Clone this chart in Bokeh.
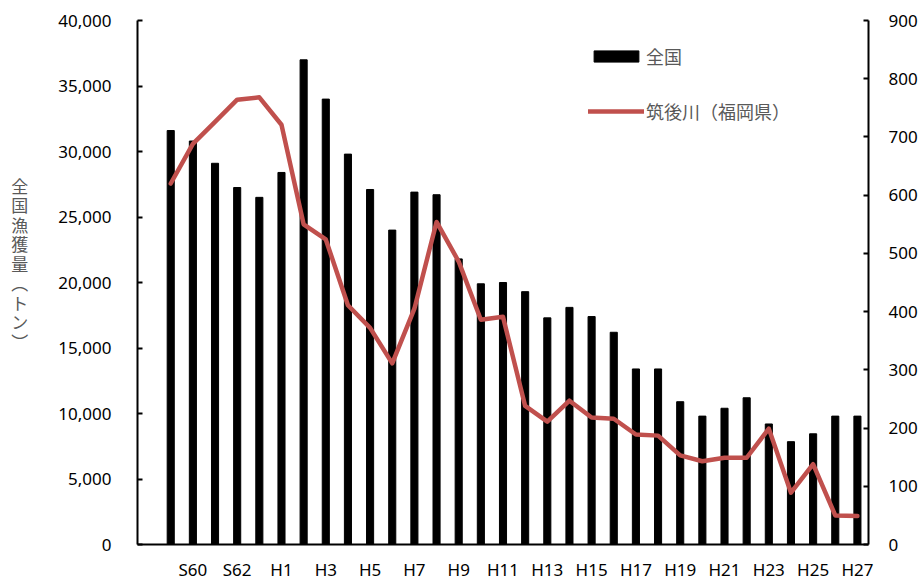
from bokeh.plotting import figure
from bokeh.models import (Range1d, LinearAxis, FixedTicker, NumeralTickFormatter,
                          Legend, LegendItem)
from bokeh.embed import file_html
from bokeh.resources import INLINE

# Fiscal years (Showa / Heisei) and catch in tonnes
years = ["S59", "S60", "S61", "S62", "S63"] + [f"H{i}" for i in range(1, 28)]
national_catch = [31600, 30800, 29100, 27250, 26500,
                  28400, 37000, 34000, 29800, 27100, 24000, 26900, 26700, 21800, 19900,
                  20000, 19300, 17300, 18100, 17400, 16200, 13400, 13400, 10900, 9800,
                  10400, 11200, 9200, 7850, 8450, 9800, 9800]
chikugo_catch = [620, 688, 726, 764, 768,
                 721, 550, 524, 411, 372, 311, 405, 554, 486, 386,
                 391, 238, 211, 247, 218, 216, 189, 187, 153, 143,
                 149, 149, 199, 89, 138, 50, 49]
left_ticks = list(range(0, 40001, 5000))
right_ticks = list(range(0, 901, 100))

x_pos = list(range(1, len(years) + 1))
label_pos = x_pos[1::2]

NUM_FONT = "Noto Sans"
JP_FONT = "Noto Sans CJK JP"
TXT = "#595959"

p = figure(width=922, height=583, output_backend="svg", toolbar_location=None,
           x_range=Range1d(-0.5, len(years) + 0.5), y_range=Range1d(0, 40000),
           min_border_left=137, min_border_right=54, min_border_top=20,
           min_border_bottom=38)
p.extra_y_ranges = {"right": Range1d(0, 900)}
p.outline_line_color = None
p.xgrid.visible = False
p.ygrid.visible = False
p.background_fill_color = "white"
p.border_fill_color = "white"

bars = p.vbar(x=x_pos, top=national_catch, width=0.32, color="black")
line = p.line(x=x_pos, y=chikugo_catch, y_range_name="right",
              line_color="#C0504D", line_width=4.5, line_join="round", line_cap="round")

# bottom axis: every other year labelled
xa = p.xaxis[0]
xa.ticker = FixedTicker(ticks=label_pos)
xa.major_label_overrides = {i: years[i - 1] for i in label_pos}
xa.major_tick_in = 0
xa.major_tick_out = 0
xa.minor_tick_line_color = None
xa.axis_line_width = 2
xa.axis_line_color = "black"
xa.major_label_standoff = 13
xa.major_label_text_font = NUM_FONT
xa.major_label_text_font_size = "17px"
xa.major_label_text_color = "black"

def style_y(ax, ticks, standoff):
    ax.ticker = FixedTicker(ticks=ticks)
    ax.major_tick_in = 5
    ax.major_tick_out = 0
    ax.major_tick_line_width = 2
    ax.minor_tick_line_color = None
    ax.axis_line_width = 2
    ax.axis_line_color = "black"
    ax.major_label_standoff = standoff
    ax.major_label_text_font = NUM_FONT
    ax.major_label_text_font_size = "17px"
    ax.major_label_text_color = "black"

ya = p.yaxis[0]
style_y(ya, left_ticks, 26)
ya.formatter = NumeralTickFormatter(format="0,0")
# vertical (stacked) axis title; two blank rows lift it slightly above centre
ya.axis_label = "全\n国\n漁\n獲\n量\n︵\nト\nン\n︶\n\u3000\n\u3000"
ya.axis_label_orientation = "horizontal"
ya.axis_label_text_font = JP_FONT
ya.axis_label_text_font_size = "17px"
ya.axis_label_text_font_style = "normal"
ya.axis_label_text_color = TXT
ya.axis_label_text_line_height = 0.78
ya.axis_label_standoff = 27

yr = LinearAxis(y_range_name="right")
style_y(yr, right_ticks, 20)
p.add_layout(yr, "right")

def make_legend(item, loc):
    return Legend(items=[item], location=loc, glyph_width=56, glyph_height=14,
                  label_standoff=2, padding=0, margin=0, spacing=0,
                  border_line_color=None, background_fill_alpha=0,
                  label_text_font=JP_FONT, label_text_font_size="18px",
                  label_text_color=TXT, label_height=14)

p.add_layout(make_legend(LegendItem(label="全国", renderers=[bars]), (451, 475)))
p.add_layout(make_legend(LegendItem(label="筑後川（福岡県）", renderers=[line]), (451, 420)))

open("out.html", "w").write(file_html(p, INLINE))
